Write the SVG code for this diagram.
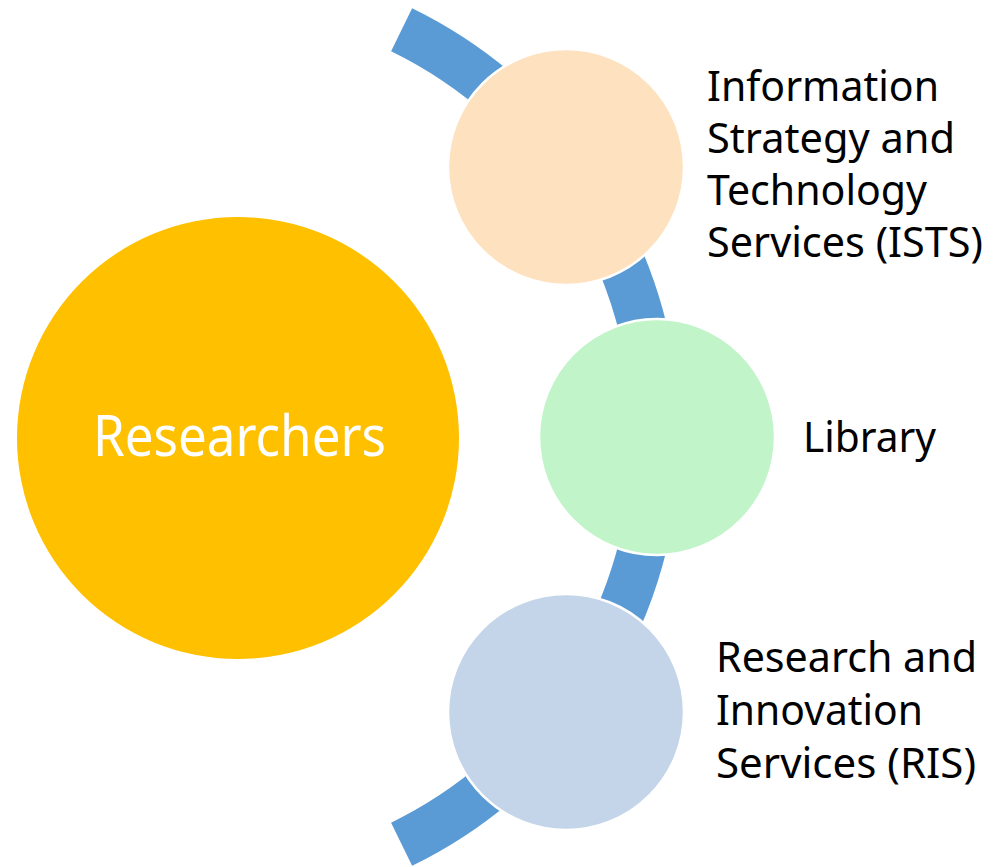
<svg xmlns="http://www.w3.org/2000/svg" width="997" height="867" viewBox="0 0 997 867">
<style>
.lbl{font-family:"Noto Sans","Open Sans","Liberation Sans",sans-serif;font-size:41px;fill:#000}
.main{font-family:"Noto Sans","Open Sans","Liberation Sans",sans-serif;font-size:56px;fill:#fff}
.sat{stroke:#fff;stroke-width:2.5}
</style>
<rect width="997" height="867" fill="#fff"/>
<g id="connectors">
<path d="M 401.6 29.8 A 453 453 0 0 1 401.6 844.2" fill="none" stroke="#5B9BD5" stroke-width="48"/>
</g>
<g id="researchers">
<circle cx="238" cy="438" r="221" fill="#FFC000"/>
<text class="main" x="93" y="456" textLength="293" lengthAdjust="spacingAndGlyphs">Researchers</text>
</g>
<g id="ists">
<circle class="sat" cx="566" cy="167" r="118" fill="#FEE1BE"/>
<text class="lbl" x="707" y="101" textLength="232" lengthAdjust="spacingAndGlyphs">Information</text>
<text class="lbl" x="707" y="153" textLength="248" lengthAdjust="spacingAndGlyphs">Strategy and</text>
<text class="lbl" x="707" y="205" textLength="220" lengthAdjust="spacingAndGlyphs">Technology</text>
<text class="lbl" x="707" y="257" textLength="276" lengthAdjust="spacingAndGlyphs">Services (ISTS)</text>
</g>
<g id="library">
<circle class="sat" cx="657" cy="437" r="118" fill="#C1F4C8"/>
<text class="lbl" x="803" y="452" textLength="133" lengthAdjust="spacingAndGlyphs">Library</text>
</g>
<g id="ris">
<circle class="sat" cx="566" cy="712" r="118" fill="#C4D5EA"/>
<text class="lbl" x="716" y="672" textLength="261" lengthAdjust="spacingAndGlyphs">Research and</text>
<text class="lbl" x="716" y="725" textLength="207" lengthAdjust="spacingAndGlyphs">Innovation</text>
<text class="lbl" x="716" y="778" textLength="260" lengthAdjust="spacingAndGlyphs">Services (RIS)</text>
</g>
</svg>
